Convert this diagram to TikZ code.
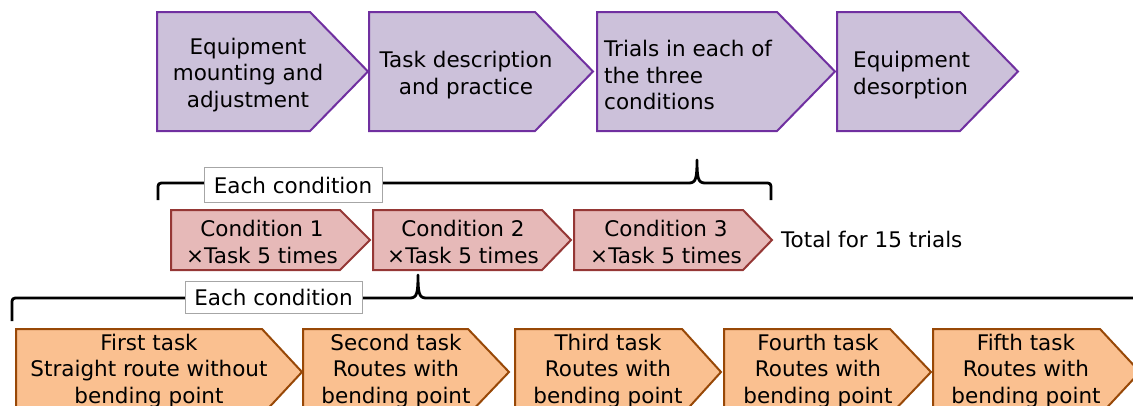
\documentclass[tikz,border=0pt]{standalone}
\usepackage{fontspec}
\setmainfont{DejaVu Sans}
\usepackage{tikz}
\definecolor{purplefill}{HTML}{CCC1DA}
\definecolor{purpleline}{HTML}{7030A0}
\definecolor{pinkfill}{HTML}{E6B9B8}
\definecolor{pinkline}{HTML}{953735}
\definecolor{orangefill}{HTML}{FAC090}
\definecolor{orangeline}{HTML}{984807}
% chevron: style, left, slant, tip, top, bottom
\newcommand\chev[6]{\draw[#1] (#2,#5) -- (#3,#5) -- (#4,{(#5+#6)/2}) -- (#3,#6) -- (#2,#6) -- cycle;}
\begin{document}
\begin{tikzpicture}[x=1pt,y=-1pt]
      \tikzset{every node/.style={font=\fontsize{21.5}{26.5}\selectfont,inner sep=0pt,align=center},
        stepP/.style={fill=purplefill,draw=purpleline,line width=2pt},
        stepC/.style={fill=pinkfill,draw=pinkline,line width=2pt},
        stepT/.style={fill=orangefill,draw=orangeline,line width=2pt},
        brace/.style={line width=2.8pt,line join=round},
        tag/.style={fill=white,draw=black!35,line width=0.8pt,minimum width=178pt}}
      \useasboundingbox (0,0) rectangle (1133,405);
      \clip (0,0) rectangle (1133,405);
      % top row
      \chev{stepP}{157}{310}{368}{12}{131}
      \chev{stepP}{369}{535}{593}{12}{131}
      \chev{stepP}{597}{777}{835}{12}{131}
      \chev{stepP}{837}{960}{1018}{12}{131}
      \node (mount) at (248,75) {Equipment\\mounting and\\adjustment};
      \node (practice) at (466,75) {Task description\\and practice};
      \node[anchor=west,align=left] (trials) at (604,75) {Trials in each of\\the three\\conditions};
      \node[anchor=west,align=left] (desorp) at (853,75) {Equipment\\desorption};
      % conditions
      \draw[brace] (158,200) -- (158,190) .. controls (158,183) .. (165,183) -- (689,183)
        .. controls (696,183) and (697,178) .. (697,160) .. controls (697,178) and (698,183) .. (705,183)
        -- (764,183) .. controls (771,183) .. (771,190) -- (771,200);
      \node[tag,minimum height=35pt] (each1) at (293,185) {Each condition};
      \chev{stepC}{171}{340}{370}{210}{270}
      \chev{stepC}{373}{542}{571}{210}{270}
      \chev{stepC}{574}{743}{772}{210}{270}
      \node (cond1) at (262,242) {Condition 1\\×Task 5 times};
      \node (cond2) at (463,242) {Condition 2\\×Task 5 times};
      \node (cond3) at (666,242) {Condition 3\\×Task 5 times};
      \node[anchor=west] (total) at (781,239) {Total for 15 trials};
      % tasks
      \draw[brace] (12,321) -- (12,305) .. controls (12,298) .. (19,298) -- (410,298)
        .. controls (417,298) and (418,293) .. (418,275) .. controls (418,293) and (419,298) .. (426,298)
        -- (1140,298);
      \node[tag,minimum width=177pt,minimum height=32pt] (each2) at (273.5,297) {Each condition};
      \chev{stepT}{16}{262}{302}{329}{415}
      \chev{stepT}{303}{468}{509}{329}{415}
      \chev{stepT}{515}{682}{721}{329}{415}
      \chev{stepT}{724}{890}{931}{329}{415}
      \chev{stepT}{933}{1100}{1140}{329}{415}
      \node (task1) at (149,371) {First task\\Straight route without\\bending point};
      \node (task2) at (396,371) {Second task\\Routes with\\bending point};
      \node (task3) at (608,371) {Third task\\Routes with\\bending point};
      \node (task4) at (818,371) {Fourth task\\Routes with\\bending point};
      \node (task5) at (1026,371) {Fifth task\\Routes with\\bending point};
    \end{tikzpicture}
\end{document}
